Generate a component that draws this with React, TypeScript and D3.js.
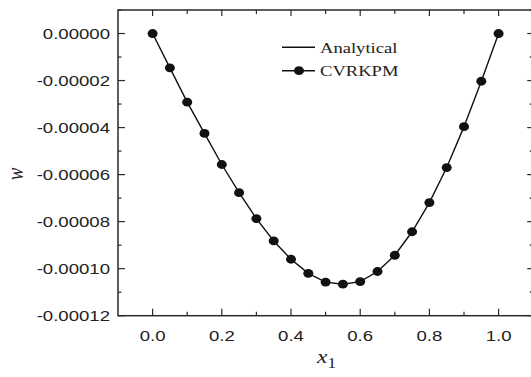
import React from "react";
import * as d3 from "d3";

const xValues = [0, 0.05, 0.1, 0.15, 0.2, 0.25, 0.3, 0.35, 0.4, 0.45, 0.5, 0.55, 0.6, 0.65, 0.7, 0.75, 0.8, 0.85, 0.9, 0.95, 1.0];
const analytical = [0, -0.0000146, -0.0000292, -0.0000425, -0.0000557, -0.0000677, -0.0000787, -0.0000882, -0.000096, -0.000102, -0.0001057, -0.0001066, -0.0001055, -0.0001012, -0.0000943, -0.0000843, -0.0000719, -0.000057, -0.0000396, -0.0000203, 0];
const cvrkpm = [0, -0.0000146, -0.0000292, -0.0000425, -0.0000557, -0.0000677, -0.0000787, -0.0000882, -0.000096, -0.000102, -0.0001057, -0.0001066, -0.0001055, -0.0001012, -0.0000943, -0.0000843, -0.0000719, -0.000057, -0.0000396, -0.0000203, 0];
const xTicks = [0, 0.2, 0.4, 0.6, 0.8, 1.0];
const xMinor = [0.1, 0.3, 0.5, 0.7, 0.9];
const yTicks = [0, -0.00002, -0.00004, -0.00006, -0.00008, -0.0001, -0.00012];
const yMinor = [0.00001, -0.00001, -0.00003, -0.00005, -0.00007, -0.00009, -0.00011];
const seriesNames = ["Analytical", "CVRKPM"];

const W = 531, H = 377;
const L = 118, R = 533.2, T = 10, B = 315.7;
const SX = 1.24;
const axisColor = "#2a2a2a";

export default function App() {
  const x = d3.scaleLinear().domain([-0.1, 1.1]).range([L, R]);
  const y = d3.scaleLinear().domain([-0.00012, 0.00001]).range([B, T]);
  const line = d3.line<number>().x((_, i) => x(xValues[i])).y((d) => y(d));
  const sans = "'Liberation Sans', Arial, Helvetica, sans-serif";
  const serif = "'Liberation Serif', 'Times New Roman', serif";
  const fmtY = (v: number) => (v === 0 ? "0.00000" : v.toFixed(5));
  return (
    <svg width={W} height={H} style={{ position: "absolute", left: 0, top: 0, background: "#fff" }}>
      <rect x={0} y={0} width={W} height={H} fill="#fff" />
      {/* frame */}
      <rect x={L} y={T} width={R - L} height={B - T} fill="none" stroke={axisColor} strokeWidth={1.5} />
      {/* x ticks */}
      {xTicks.map((t) => (
        <g key={"xt" + t}>
          <line x1={x(t)} x2={x(t)} y1={B} y2={B - 7} stroke={axisColor} strokeWidth={1.2} />
          <line x1={x(t)} x2={x(t)} y1={T} y2={T + 6} stroke={axisColor} strokeWidth={1.2} />
          <text transform={`translate(${x(t)},${341}) scale(${SX},1)`} textAnchor="middle" fontFamily={sans} fontSize={15} fill="#222">
            {t.toFixed(1)}
          </text>
        </g>
      ))}
      {xMinor.map((t) => (
        <g key={"xm" + t}>
          <line x1={x(t)} x2={x(t)} y1={B} y2={B - 4} stroke={axisColor} strokeWidth={1.2} />
          <line x1={x(t)} x2={x(t)} y1={T} y2={T + 4} stroke={axisColor} strokeWidth={1.2} />
        </g>
      ))}
      {/* y ticks */}
      {yTicks.map((t) => (
        <g key={"yt" + t}>
          <line x1={L} x2={L + 7} y1={y(t)} y2={y(t)} stroke={axisColor} strokeWidth={1.2} />
          <line x1={R} x2={R - 6} y1={y(t)} y2={y(t)} stroke={axisColor} strokeWidth={1.2} />
          <text transform={`translate(${110},${y(t) + 5.3}) scale(${SX},1)`} textAnchor="end" fontFamily={sans} fontSize={15} fill="#222">
            {fmtY(t)}
          </text>
        </g>
      ))}
      {yMinor.map((t) => (
        <g key={"ym" + t}>
          <line x1={L} x2={L + 3.5} y1={y(t)} y2={y(t)} stroke={axisColor} strokeWidth={1.2} />
          <line x1={R} x2={R - 3.5} y1={y(t)} y2={y(t)} stroke={axisColor} strokeWidth={1.2} />
        </g>
      ))}
      {/* series */}
      <path d={line(analytical) || ""} fill="none" stroke="#111" strokeWidth={1.4} />
      {cvrkpm.map((v, i) => (
        <ellipse key={"p" + i} cx={x(xValues[i])} cy={y(v)} rx={5} ry={4.4} fill="#111" />
      ))}
      {/* legend */}
      <line x1={282} x2={315} y1={47.3} y2={47.3} stroke="#111" strokeWidth={1.4} />
      <text transform={`translate(320,52.5) scale(${SX},1)`} fontFamily={serif} fontSize={15} fill="#222">
        {seriesNames[0]}
      </text>
      <line x1={282} x2={315} y1={70.7} y2={70.7} stroke="#111" strokeWidth={1.4} />
      <ellipse cx={299} cy={70.7} rx={5} ry={4.4} fill="#111" />
      <text transform={`translate(320,76) scale(${SX},1)`} fontFamily={serif} fontSize={15} fill="#222">
        {seriesNames[1]}
      </text>
      {/* axis titles */}
      <text transform={`translate(23,174) rotate(-90) scale(1,${SX})`} textAnchor="middle" fontFamily={serif} fontStyle="italic" fontSize={19} fill="#222">
        w
      </text>
      <text transform={`translate(317,363) scale(${SX},1)`} fontFamily={serif} fontSize={19} fill="#222">
        <tspan fontStyle="italic">x</tspan>
        <tspan fontSize={14} dy={5}>1</tspan>
      </text>
    </svg>
  );
}
